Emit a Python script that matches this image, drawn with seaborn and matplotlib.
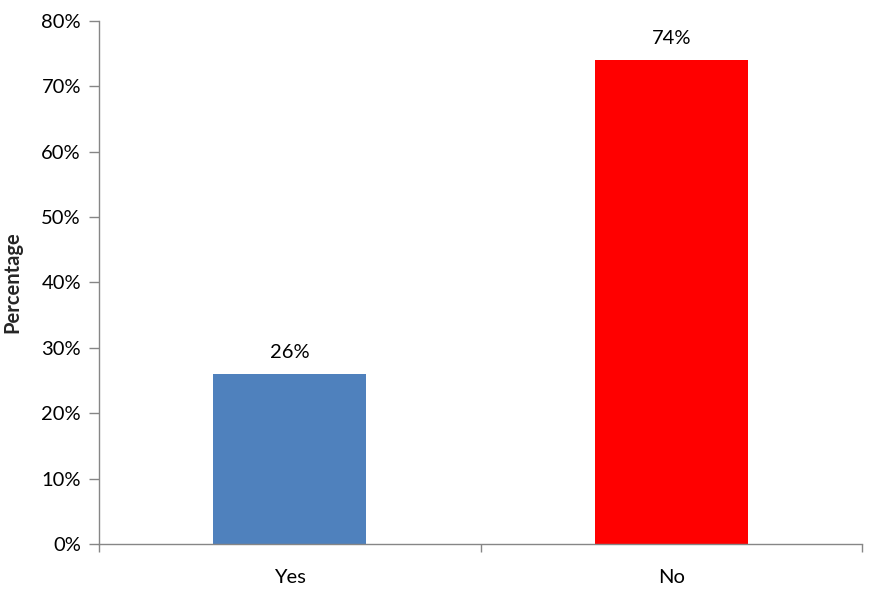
import pandas as pd
import matplotlib.pyplot as plt
import seaborn as sns
from matplotlib.ticker import PercentFormatter, FixedLocator

answers = ['Yes', 'No']
percent = [26, 74]
bar_colors = ['#4F81BD', '#FF0000']

df = pd.DataFrame({'Answer': answers, 'Percentage': percent})

sns.set_theme(style="ticks")
plt.rcParams['font.family'] = ['Lato', 'DejaVu Sans']

fig = plt.figure(figsize=(8.72, 5.94), dpi=100)
ax = fig.add_axes([99 / 872, 50 / 594, 763 / 872, 523 / 594])

sns.barplot(data=df, x='Answer', y='Percentage', hue='Answer', palette=bar_colors,
            width=0.4, saturation=1, legend=False, linewidth=0, ax=ax)

for i, v in enumerate(percent):
    ax.text(i, v + 2.0, f'{v}%', ha='center', va='bottom', fontsize=14.5, color='black')

ax.set_ylim(0, 80)
ax.set_xlim(-0.5, 1.5)
ax.set_yticks(range(0, 81, 10))
ax.yaxis.set_major_formatter(PercentFormatter(decimals=0))
ax.set_ylabel('Percentage', fontsize=14.5, fontweight='bold', labelpad=14)
ax.set_xlabel('')

ax.xaxis.set_minor_locator(FixedLocator([-0.5, 0.5, 1.5]))
ax.tick_params(axis='x', which='major', length=0, labelsize=14.5, pad=18, colors='black')
ax.tick_params(axis='x', which='minor', length=6, width=1, color='#868686')
ax.tick_params(axis='y', length=7, width=1, color='#868686', labelsize=14.5, pad=6, labelcolor='black')

sns.despine(ax=ax)
for s in ['left', 'bottom']:
    ax.spines[s].set_color('#868686')
    ax.spines[s].set_linewidth(1)

fig.savefig('out.png', dpi=100)
